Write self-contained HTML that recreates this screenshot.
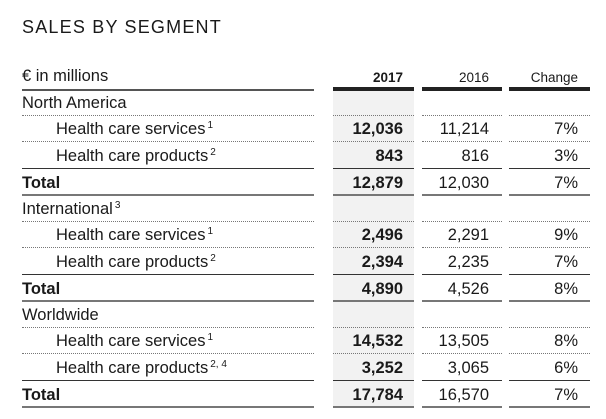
<!DOCTYPE html>
<html><head><meta charset="utf-8"><style>
body{margin:0;width:606px;height:419px;background:#fff;position:relative;overflow:hidden;font-family:"Liberation Sans",sans-serif;color:#1a1a1a}
div{position:absolute}
.t{white-space:nowrap;font-size:16.5px;line-height:20px}
.r{text-align:right}
.b{font-weight:bold}
sup{font-size:10px;vertical-align:6px;margin-left:2px;line-height:0}
.dot{height:0;border-top:1.3px dotted #777}
.sol{height:1px;background:#333}
.gr{height:2px;background:#777}
</style></head><body>
<div class="t" style="left:22px;top:17px;font-size:18px;letter-spacing:1.2px">SALES BY SEGMENT</div>
<div style="left:333px;top:91px;width:81px;height:315px;background:#f2f2f2"></div>
<div class="t" style="left:22px;top:66px">€ in millions</div>
<div class="t b r" style="left:333px;width:70px;top:68px;font-size:13.5px">2017</div>
<div class="t r" style="left:422px;width:67px;top:68px;font-size:13.5px">2016</div>
<div class="t r" style="left:509px;width:69px;top:68px;font-size:13.5px">Change</div>
<div style="left:22px;top:89px;width:292px;height:1.5px;background:#555"></div>
<div style="left:333px;top:87px;width:81px;height:4px;background:#222"></div>
<div style="left:422px;top:87px;width:80px;height:4px;background:#222"></div>
<div style="left:509px;top:87px;width:81px;height:4px;background:#222"></div>
<div id="c"></div>
<script>
var secs=[["North America","",["12,036","11,214","7%"],["843","816","3%"],["12,879","12,030","7%"],"2"],
["International","3",["2,496","2,291","9%"],["2,394","2,235","7%"],["4,890","4,526","8%"],"2"],
["Worldwide","",["14,532","13,505","8%"],["3,252","3,065","6%"],["17,784","16,570","7%"],"2, 4"]];
var h="";
function line(y,cls){[[22,292],[333,81],[422,80],[509,81]].forEach(function(s){h+='<div class="'+cls+'" style="left:'+s[0]+'px;top:'+y+'px;width:'+s[1]+'px"></div>';});}
function vals(y,v){h+='<div class="t b r" style="left:333px;width:70px;top:'+y+'px">'+v[0]+'</div><div class="t r" style="left:422px;width:67px;top:'+y+'px">'+v[1]+'</div><div class="t r" style="left:509px;width:69px;top:'+y+'px">'+v[2]+'</div>';}
secs.forEach(function(s,i){var b=88+i*106;
h+='<div class="t" style="left:22px;top:'+(b+5)+'px">'+s[0]+(s[1]?'<sup>'+s[1]+'</sup>':'')+'</div>';
line(b+27,"dot");
h+='<div class="t" style="left:56px;top:'+(b+31)+'px">Health care services<sup>1</sup></div>';vals(b+31,s[2]);
line(b+53,"dot");
h+='<div class="t" style="left:56px;top:'+(b+58)+'px">Health care products<sup>'+s[5]+'</sup></div>';vals(b+58,s[3]);
line(b+80,"sol");
h+='<div class="t b" style="left:22px;top:'+(b+85)+'px">Total</div>';vals(b+85,s[4]);
line(b+106,"gr");});
document.getElementById("c").outerHTML=h;
</script>
</body></html>
